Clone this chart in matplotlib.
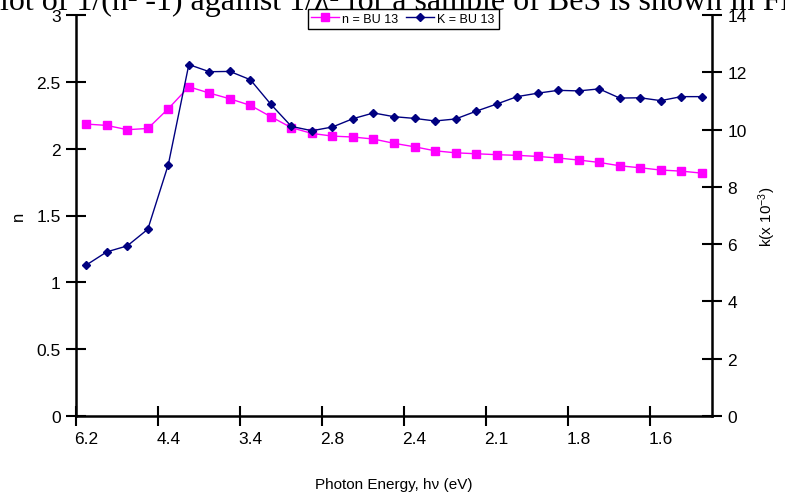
import numpy as np
import matplotlib
matplotlib.use("Agg")
import matplotlib.pyplot as plt

plt.rcParams["font.family"] = ["Liberation Sans", "DejaVu Sans"]
plt.rcParams["mathtext.default"] = "regular"

# photon energy tick labels (one every 4 categories)
energy_labels = ["6.2", "4.4", "3.4", "2.8", "2.4", "2.1", "1.8", "1.6"]

# refractive index n (left axis)
n_vals = [2.184, 2.174, 2.142, 2.151, 2.299, 2.463, 2.416, 2.373, 2.324, 2.239,
          2.157, 2.114, 2.094, 2.087, 2.072, 2.040, 2.014, 1.984, 1.969, 1.962,
          1.955, 1.950, 1.942, 1.930, 1.915, 1.897, 1.872, 1.857, 1.840, 1.832,
          1.817]

# extinction coefficient k x 10^-3 (right axis)
k_vals = [5.27, 5.73, 5.94, 6.52, 8.78, 12.27, 12.02, 12.03, 11.74, 10.88,
          10.11, 9.96, 10.09, 10.38, 10.58, 10.45, 10.39, 10.30, 10.37, 10.64,
          10.89, 11.15, 11.27, 11.37, 11.35, 11.42, 11.10, 11.11, 11.01, 11.15,
          11.15]

x = np.arange(len(n_vals))

fig = plt.figure(figsize=(7.85, 5.02), dpi=100)
ax = fig.add_axes([76 / 785, 85 / 502, 636 / 785, 401 / 502])
ax2 = ax.twinx()

l1, = ax.plot(x, n_vals, color="#FF00FF", marker="s", markersize=6, lw=1.0,
              label="n = BU 13")
l2, = ax2.plot(x, k_vals, color="#000080", marker="D", markersize=4.5, lw=1.0,
               label="K = BU 13")

ax.set_xlim(-0.5, len(x) - 0.5)
ax.set_ylim(0, 3)
ax2.set_ylim(0, 14)
ax.set_yticks(np.arange(0, 3.01, 0.5))
ax.set_yticklabels(["0", "0.5", "1", "1.5", "2", "2.5", "3"])
ax2.set_yticks(np.arange(0, 15, 2))

# ticks between categories, labels on every 4th category
ax.set_xticks(np.arange(-0.5, len(x) - 1, 4))
ax.set_xticklabels([])
ax.set_xticks(np.arange(0, len(x), 4), minor=True)
ax.set_xticklabels(energy_labels, minor=True)
ax.tick_params(axis="x", which="minor", length=0, pad=11, labelsize=12.5)
ax.tick_params(axis="x", which="major", direction="inout", length=14, width=1.5)
ax.tick_params(axis="y", direction="inout", length=14, width=1.5, labelsize=12.5, pad=4)
ax2.tick_params(axis="y", direction="inout", length=14, width=1.5, labelsize=12.5, pad=4)

for a in (ax, ax2):
    a.spines["top"].set_visible(False)
    for s in ("left", "right", "bottom"):
        a.spines[s].set_linewidth(1.8)
ax.spines["right"].set_visible(False)
ax2.spines["left"].set_visible(False)
ax2.spines["bottom"].set_visible(False)

ax.set_xlabel("Photon Energy, h\u03bd (eV)", fontsize=11, labelpad=22)
ax.set_ylabel("n", fontsize=12)
ax.yaxis.set_label_coords((26 - 76) / 636, 0.5)
ax2.set_ylabel("k(x 10$^{-3}$)", fontsize=11)
ax2.yaxis.set_label_coords((756 - 76) / 636, 0.5)

fig.legend(handles=[l1, l2], loc="upper center", bbox_to_anchor=(403 / 785, 1 - 10 / 502),
           ncol=2, fontsize=9, frameon=True, fancybox=False, edgecolor="black",
           handlelength=2.2, handletextpad=0.3, columnspacing=0.6,
           borderpad=0.3, borderaxespad=0, framealpha=1)

# clipped line of document text above the chart
fig.text(0.0, 1 - 10 / 502, "lot of 1/(n\u00b2 -1) against 1/\u03bb\u00b2 for a sample of BeS is shown in Fig",
         family=["Liberation Serif", "DejaVu Serif"], fontsize=23, va="baseline", ha="left")

fig.savefig("out.png", dpi=100)
